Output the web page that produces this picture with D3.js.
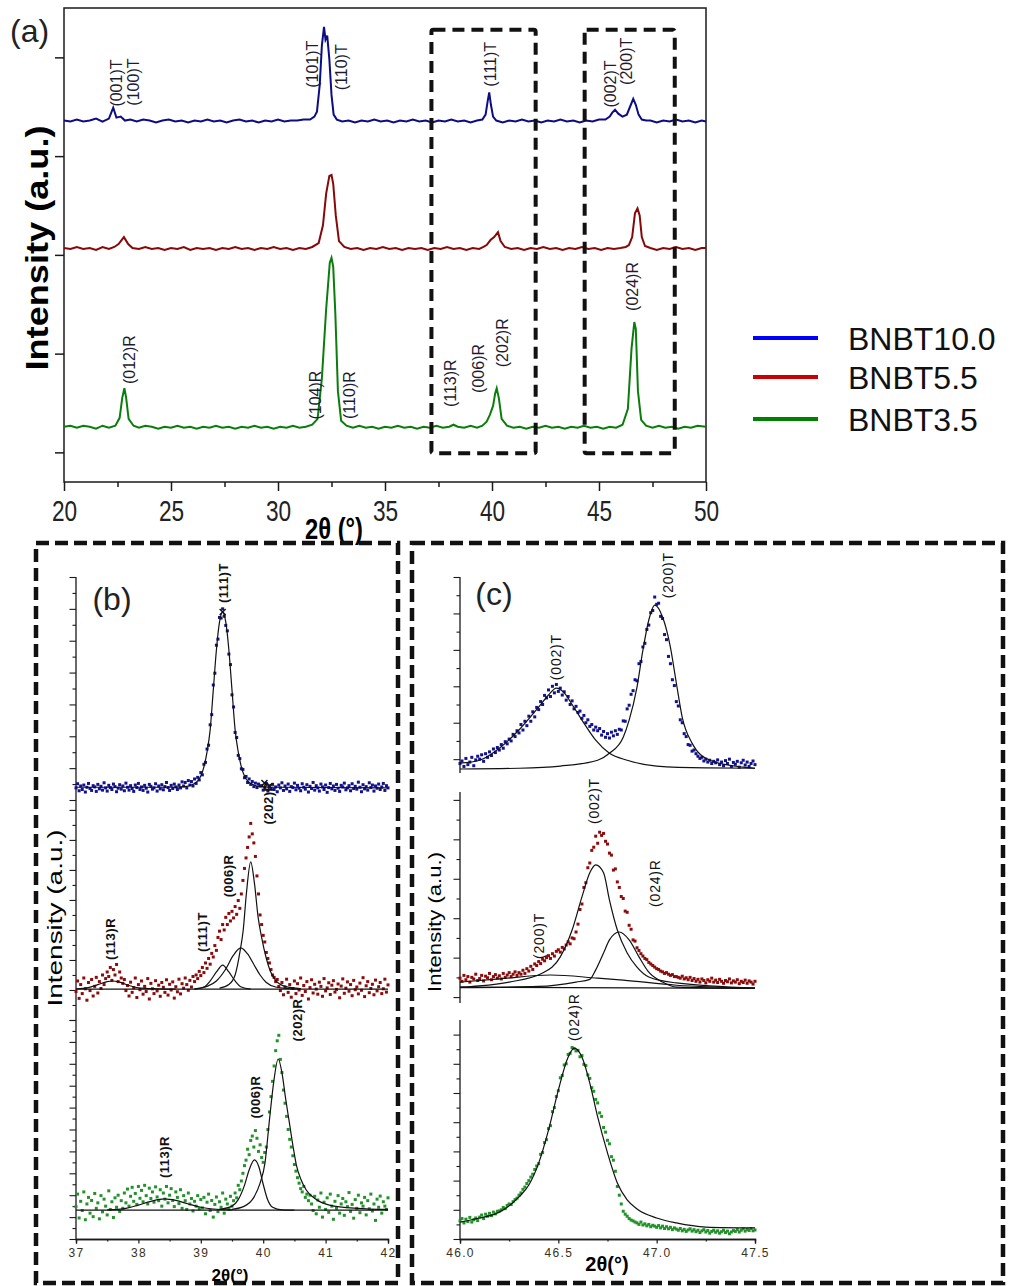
<!DOCTYPE html>
<html>
<head>
<meta charset="utf-8">
<script src="https://cdn.jsdelivr.net/npm/d3@7"></script>
<style>
  body { margin: 0; background: #fff; }
  text { font-family: Arial, "Liberation Sans", sans-serif; }
</style>
</head>
<body>
<script>
// ---------------- data ----------------
// (a) full patterns, 2theta (deg) vs stacked intensity (a.u.)
const sampleNames = ["BNBT10.0", "BNBT5.5", "BNBT3.5"];
const xTicksA = [20, 25, 30, 35, 40, 45, 50];
const patternBNBT100 = [[20,3.36],[20.3,3.35],[20.6,3.37],[20.9,3.35],[21.2,3.36],[21.5,3.38],[21.8,3.35],[22.1,3.38],[22.3,3.49],[22.45,3.39],[22.65,3.40],[22.85,3.36],[23.1,3.37],[23.4,3.35],[23.7,3.37],[24.0,3.36],[24.3,3.34],[24.6,3.36],[24.9,3.37],[25.2,3.35],[25.5,3.36],[25.8,3.34],[26.1,3.36],[26.4,3.35],[26.7,3.37],[27.0,3.35],[27.3,3.36],[27.6,3.34],[27.9,3.36],[28.2,3.37],[28.5,3.35],[28.8,3.36],[29.1,3.34],[29.4,3.36],[29.7,3.35],[30.0,3.37],[30.3,3.35],[30.6,3.36],[30.9,3.36],[31.2,3.37],[31.5,3.37],[31.7,3.40],[31.82,3.45],[31.95,3.72],[32.05,4.12],[32.15,4.31],[32.22,4.18],[32.3,4.22],[32.4,3.98],[32.5,3.62],[32.6,3.42],[32.75,3.37],[33.0,3.35],[33.3,3.36],[33.6,3.34],[33.9,3.36],[34.2,3.35],[34.5,3.37],[34.8,3.35],[35.1,3.36],[35.4,3.34],[35.7,3.36],[36.0,3.35],[36.3,3.37],[36.6,3.35],[36.9,3.36],[37.2,3.34],[37.5,3.36],[37.8,3.35],[38.1,3.37],[38.4,3.35],[38.7,3.36],[39.0,3.34],[39.3,3.36],[39.55,3.37],[39.7,3.42],[39.8,3.56],[39.87,3.645],[39.95,3.52],[40.05,3.40],[40.2,3.36],[40.5,3.34],[40.8,3.36],[41.1,3.35],[41.4,3.37],[41.7,3.35],[42.0,3.36],[42.3,3.34],[42.6,3.36],[42.9,3.35],[43.2,3.37],[43.5,3.35],[43.8,3.36],[44.1,3.34],[44.4,3.36],[44.7,3.35],[45.0,3.37],[45.3,3.37],[45.5,3.40],[45.62,3.44],[45.75,3.47],[45.9,3.43],[46.1,3.40],[46.3,3.42],[46.45,3.50],[46.6,3.58],[46.72,3.52],[46.85,3.42],[47.0,3.37],[47.2,3.36],[47.4,3.36],[47.7,3.34],[48.0,3.36],[48.3,3.35],[48.6,3.37],[48.9,3.35],[49.2,3.36],[49.5,3.34],[49.8,3.36],[50,3.35]];
const patternBNBT55 = [[20,2.07],[20.3,2.06],[20.6,2.08],[20.9,2.06],[21.2,2.07],[21.5,2.05],[21.8,2.08],[22.1,2.06],[22.35,2.08],[22.55,2.11],[22.8,2.18],[23.0,2.11],[23.2,2.07],[23.5,2.06],[23.8,2.08],[24.1,2.06],[24.4,2.07],[24.7,2.05],[25.0,2.07],[25.3,2.06],[25.6,2.08],[25.9,2.05],[26.2,2.07],[26.5,2.06],[26.8,2.07],[27.1,2.05],[27.4,2.07],[27.7,2.06],[28.0,2.08],[28.3,2.06],[28.6,2.07],[28.9,2.05],[29.2,2.07],[29.5,2.06],[29.8,2.08],[30.1,2.06],[30.4,2.07],[30.7,2.05],[31.0,2.07],[31.3,2.06],[31.6,2.08],[31.9,2.12],[32.1,2.30],[32.25,2.62],[32.4,2.80],[32.5,2.81],[32.58,2.72],[32.7,2.40],[32.85,2.14],[33.1,2.08],[33.4,2.06],[33.7,2.07],[34.0,2.05],[34.3,2.07],[34.6,2.06],[34.9,2.08],[35.2,2.06],[35.5,2.07],[35.8,2.05],[36.1,2.07],[36.4,2.06],[36.7,2.07],[37.0,2.05],[37.3,2.07],[37.6,2.06],[37.9,2.08],[38.2,2.06],[38.5,2.07],[38.8,2.05],[39.1,2.07],[39.4,2.06],[39.6,2.08],[39.75,2.10],[39.93,2.15],[40.1,2.18],[40.28,2.23],[40.4,2.14],[40.6,2.08],[40.9,2.06],[41.2,2.07],[41.5,2.05],[41.8,2.07],[42.1,2.06],[42.4,2.08],[42.7,2.06],[43.0,2.07],[43.3,2.05],[43.6,2.07],[43.9,2.06],[44.2,2.08],[44.5,2.06],[44.8,2.07],[45.1,2.05],[45.4,2.07],[45.7,2.06],[46.0,2.07],[46.25,2.08],[46.4,2.10],[46.55,2.18],[46.68,2.42],[46.8,2.47],[46.9,2.40],[47.0,2.18],[47.15,2.09],[47.4,2.07],[47.7,2.05],[48.0,2.07],[48.3,2.06],[48.6,2.08],[48.9,2.06],[49.2,2.07],[49.5,2.05],[49.8,2.07],[50.0,2.07]];
const patternBNBT35 = [[20,0.26],[20.3,0.27],[20.6,0.25],[20.9,0.27],[21.2,0.26],[21.5,0.24],[21.8,0.27],[22.1,0.25],[22.4,0.27],[22.6,0.35],[22.72,0.55],[22.82,0.65],[22.9,0.56],[23.02,0.34],[23.25,0.27],[23.5,0.25],[23.8,0.27],[24.1,0.26],[24.4,0.24],[24.7,0.26],[25.0,0.25],[25.3,0.27],[25.6,0.25],[25.9,0.26],[26.2,0.24],[26.5,0.26],[26.8,0.25],[27.1,0.27],[27.4,0.25],[27.7,0.26],[28.0,0.24],[28.3,0.26],[28.6,0.25],[28.9,0.27],[29.2,0.25],[29.5,0.26],[29.8,0.24],[30.1,0.26],[30.4,0.25],[30.7,0.27],[31.0,0.25],[31.3,0.26],[31.6,0.28],[31.85,0.34],[32.05,0.75],[32.25,1.45],[32.42,1.92],[32.5,1.97],[32.58,1.88],[32.68,1.40],[32.8,0.62],[32.95,0.32],[33.2,0.27],[33.5,0.25],[33.8,0.27],[34.1,0.25],[34.4,0.26],[34.7,0.24],[35.0,0.26],[35.3,0.25],[35.6,0.27],[35.9,0.25],[36.2,0.26],[36.5,0.24],[36.8,0.26],[37.1,0.25],[37.4,0.27],[37.7,0.25],[38.0,0.26],[38.2,0.28],[38.4,0.26],[38.7,0.25],[39.0,0.27],[39.3,0.25],[39.55,0.27],[39.75,0.31],[39.9,0.38],[40.05,0.47],[40.15,0.60],[40.22,0.65],[40.32,0.55],[40.45,0.34],[40.7,0.27],[41.0,0.25],[41.3,0.26],[41.6,0.24],[41.9,0.26],[42.2,0.25],[42.5,0.27],[42.8,0.25],[43.1,0.26],[43.4,0.24],[43.7,0.26],[44.0,0.25],[44.3,0.27],[44.6,0.25],[44.9,0.26],[45.2,0.24],[45.5,0.26],[45.8,0.25],[46.1,0.28],[46.35,0.44],[46.52,1.05],[46.65,1.32],[46.72,1.25],[46.82,0.62],[46.97,0.33],[47.2,0.27],[47.5,0.25],[47.8,0.27],[48.1,0.25],[48.4,0.26],[48.7,0.24],[49.0,0.26],[49.3,0.25],[49.6,0.27],[50,0.26]];
const peakLabelsA = [["(001)T",22.43,3.74],["(100)T",23.23,3.75],["(101)T",31.6,3.93],["(110)T",32.96,3.9],["(111)T",39.93,3.93],["(002)T",45.55,3.73],["(200)T",46.3,3.96],["(012)R",23.04,0.94],["(104)R",31.75,0.58],["(110)R",33.34,0.58],["(113)R",38.06,0.7],["(006)R",39.37,0.85],["(202)R",40.5,1.11],["(024)R",46.58,1.68]];
const zoomBoxesA = [[37.17, 42.04, -0.01, 4.28], [44.33, 48.54, -0.01, 4.28]];

// (b) 37-42 deg, readings every 0.025 deg (counts)
const bBlue = [38,51,29,44,33,47,25,40,52,36,30,45,41,27,49,35,43,31,54,38,28,46,39,33,50,42,26,37,48,34,44,29,53,40,31,45,36,27,47,39,52,33,41,30,46,37,25,49,43,34,38,51,28,44,35,48,32,42,55,39,30,46,36,50,41,33,47,38,57,44,
  55,38,61,47,58,44,66,52,71,63,86,79,112,118,160,172,236,268,361,398,486,505,573,571,600,577,548,531,458,425,330,292,212,196,140,130,98,96,70,74,55,66,49,58,42,53,39,50,44,
  45,31,40,52,28,43,36,49,33,41,26,47,38,54,30,44,35,50,27,42,39,53,32,46,37,29,51,40,34,48,25,43,36,55,31,45,38,28,50,41,33,47,24,39,52,35,44,30,49,37,27,46,41,53,32,38,45,29,51,36,43,34,56,40,26,48,35,42,31,54,39,47,28,44,37,50,33,41,52,30,45,38];
const bRed = [95,130,72,118,88,140,104,66,125,98,135,80,112,142,90,128,105,150,118,138,160,
  145,175,132,168,150,185,128,160,140,122,
  135,98,115,80,126,92,108,140,75,118,101,130,86,112,95,138,70,122,104,88,131,97,116,79,125,109,92,134,83,119,100,127,73,111,94,136,87,121,106,140,118,99,132,110,145,128,150,138,
  162,148,175,158,190,172,205,186,222,210,248,232,275,296,268,318,300,342,318,355,330,362,340,378,352,398,372,420,465,505,540,575,610,655,620,590,545,480,420,350,318,282,260,225,205,190,168,150,142,128,135,112,
  98,125,84,110,136,92,118,76,105,130,88,121,100,140,82,115,95,128,70,108,134,90,119,103,86,126,112,79,138,97,107,124,85,116,131,93,102,120,74,113,137,89,106,127,96,118,81,132,101,110,87,123,99,141,78,114,128,91,105,119,84,133,97,111,125,88,104,136,93,117];
const bGreen = [148,205,96,172,130,215,88,160,190,118,176,102,208,140,165,92,198,124,182,150,110,220,135,170,98,188,145,200,126,
  175,140,210,165,228,150,195,236,172,208,158,240,186,222,170,245,198,160,232,185,215,168,238,192,175,225,150,210,182,240,165,200,230,176,148,215,190,162,225,140,198,175,135,210,160,185,128,172,150,198,138,180,
  142,190,115,168,205,130,176,100,158,192,125,170,145,210,118,182,160,136,195,150,
  175,210,188,245,225,265,300,335,360,410,385,450,470,420,495,460,400,430,372,350,395,420,
  500,580,650,720,790,860,905,930,820,760,680,620,560,500,455,420,380,340,310,280,255,230,215,240,190,205,175,200,
  160,130,195,115,178,145,210,100,168,135,188,122,205,150,90,172,140,198,118,160,185,108,170,148,212,126,158,95,180,140,200,120,165,150,190,110,175,138,205,128,160,85,182,145,196,118,170,150,135,188];
const bBlueFit = [[37,40],[38.5,40],[38.75,42],[38.85,47],[38.95,60],[39.0,75],[39.05,104],[39.1,151],[39.15,220],[39.2,345],[39.25,471],[39.3,559],[39.35,590],[39.4,559],[39.45,471],[39.5,345],[39.55,220],[39.6,151],[39.65,104],[39.7,75],[39.75,60],[39.85,47],[39.95,42],[40.2,40],[42,38]];
const bRedBase = [[37,103],[42,103]];
const bRed113 = [[37.0,104],[37.2,108],[37.35,118],[37.5,128],[37.58,130],[37.7,126],[37.85,115],[38.0,107],[38.3,104],[38.6,103]];
const bRed111 = [[38.9,103],[39.05,110],[39.15,130],[39.25,160],[39.35,183],[39.45,160],[39.55,130],[39.65,110],[39.8,103]];
const bRed006 = [[38.9,104],[39.1,112],[39.25,130],[39.4,170],[39.52,215],[39.64,240],[39.75,220],[39.85,185],[39.95,150],[40.05,125],[40.2,110],[40.4,105],[40.6,103]];
const bRed202 = [[39.3,106],[39.45,118],[39.55,150],[39.63,230],[39.68,300],[39.73,420],[39.8,527],[39.86,455],[39.92,340],[39.97,280],[40.05,205],[40.12,160],[40.2,132],[40.35,112],[40.6,105]];
const bGreenBase = [[37,132],[42,132]];
const bGreen113 = [[37.5,133],[37.8,140],[38.0,155],[38.2,172],[38.42,183],[38.6,176],[38.8,160],[39.0,145],[39.2,137],[39.5,133]];
const bGreen006 = [[39.3,135],[39.5,150],[39.6,180],[39.7,245],[39.78,320],[39.86,361],[39.93,330],[40.0,250],[40.07,180],[40.15,145],[40.3,133],[40.5,132]];
const bGreen202 = [[39.5,135],[39.7,150],[39.85,190],[39.95,255],[40.03,350],[40.1,543],[40.17,720],[40.24,822],[40.3,760],[40.36,640],[40.42,530],[40.48,420],[40.53,340],[40.6,275],[40.69,224],[40.85,180],[41.06,155],[41.5,140],[42,135]];
const bBlueLabels = [["(111)T",39.37,681]];
const bRedLabels = [["(202)R",40.08,723],["(113)R",37.55,270],["(111)T",39.03,293],["(006)R",39.45,480]];
const bGreenLabels = [["(113)R",38.42,374],["(006)R",39.87,648],["(202)R",40.55,1000]];
const bBlueMarks = [[39.35,590],[40.02,53]];

// (c) 46-47.5 deg, readings every 0.01 deg (counts)
const cBlue = [-12,-5,-20,2,-15,-8,5,-18,-2,8,0,12,-6,15,5,20,10,28,18,32,25,40,30,48,42,55,50,68,62,78,
  72,95,80,104,92,118,104,130,116,142,136,158,150,175,168,190,172,200,182,205,186,195,176,185,162,172,150,160,138,145,
  128,132,112,120,100,108,90,95,80,88,78,84,66,76,60,70,58,74,64,78,68,82,80,105,104,138,148,178,188,218,
  215,262,268,308,318,356,368,402,408,445,425,428,392,386,342,328,282,262,218,202,158,146,108,100,70,62,40,38,22,25,
  15,8,2,5,-5,0,-8,-3,-12,-6,-10,-2,-15,-8,-18,-4,-12,0,-20,-9,-14,-6,-22,-10,-3,-16,-8,-20,-12,-5,-15];
const cRed = [48,40,55,44,52,38,50,46,58,42,47,55,41,53,49,60,44,52,57,48,54,46,60,50,56,62,52,58,64,55,
  62,58,68,60,72,66,78,70,84,80,90,85,96,92,100,105,98,110,104,116,120,114,126,122,132,140,135,150,148,165,
  185,222,236,278,290,328,340,372,380,408,390,418,410,415,395,388,365,360,322,325,292,278,255,250,218,215,182,172,145,142,
  125,118,110,104,98,95,88,84,80,76,72,70,66,64,60,62,58,55,57,52,52,50,48,53,46,49,44,50,42,47,
  40,45,38,46,42,36,44,40,48,38,43,37,45,40,35,42,39,46,36,41,38,44,34,40,37,43,35,41,38,33,40];
const cGreen = [62,70,55,68,60,74,58,66,72,63,75,82,70,85,78,88,80,92,86,95,96,100,108,104,115,120,118,128,135,140,
  150,158,170,178,190,200,212,222,238,250,258,290,296,330,340,378,388,436,450,488,508,552,560,596,600,632,636,656,652,644,
  646,624,628,598,594,562,550,518,506,478,466,432,420,382,366,338,326,282,270,232,180,150,120,95,85,78,70,65,62,58,
  55,50,58,48,52,45,50,42,47,44,40,46,38,44,36,42,35,40,32,38,34,30,36,28,33,26,31,35,27,32,
  25,30,22,28,32,24,29,20,26,30,23,28,20,25,30,22,27,18,24,29,26,32,24,30,35,27,33,29,36,28,31];
const cBlue002 = [[46.0,-11],[46.1,-3],[46.2,30],[46.3,80],[46.4,143],[46.45,176],[46.49,195],[46.53,182],[46.57,150],[46.63,99],[46.69,52],[46.76,16],[46.85,-3],[47.0,-19],[47.25,-24],[47.5,-25]];
const cBlue200 = [[46.0,-27],[46.3,-25],[46.51,-19],[46.7,-3],[46.76,16],[46.83,60],[46.86,107],[46.9,198],[46.93,299],[46.96,382],[46.99,423],[47.03,390],[47.07,307],[47.1,209],[47.13,115],[47.18,44],[47.27,-3],[47.44,-22],[47.5,-25]];
const cRedBase = [[46.0,25],[47.5,22]];
const cRed200 = [[46.0,38],[46.2,46],[46.46,56],[46.7,48],[46.83,43],[47.1,30],[47.5,23]];
const cRed002 = [[46.0,25],[46.25,38],[46.42,61],[46.51,102],[46.57,170],[46.62,254],[46.66,315],[46.69,335],[46.73,315],[46.76,246],[46.8,170],[46.85,112],[46.9,76],[46.96,51],[47.1,36],[47.5,23]];
const cRed024 = [[46.0,24],[46.4,27],[46.59,38],[46.66,45],[46.69,69],[46.73,112],[46.76,145],[46.81,165],[46.86,145],[46.91,102],[46.96,63],[47.03,38],[47.1,25],[47.5,22]];
const cGreenFit = [[46.0,58],[46.1,72],[46.2,92],[46.3,144],[46.35,185],[46.4,260],[46.45,373],[46.5,510],[46.55,623],[46.58,654],[46.62,623],[46.66,534],[46.7,418],[46.75,295],[46.8,192],[46.85,134],[46.9,103],[47.0,72],[47.1,55],[47.25,41],[47.5,38]];
const cBlueLabels = [["(002)T",46.49,280],["(200)T",47.06,505]];
const cRedLabels = [["(002)T",46.68,497],["(024)R",46.99,289],["(200)T",46.40,155]];
const cGreenLabels = [["(024)R",46.58,760]];

// ---------------- drawing ----------------
const ink = "#1a1a1a";
const svg = d3.select("body").append("svg").attr("width", 1015).attr("height", 1286);

// ===== panel (a) =====
const xA = d3.scaleLinear().domain([20, 50]).range([64, 706]);
const yA = d3.scaleLinear().domain([-0.3, 4.5]).range([482, 8]);
const gA = svg.append("g");

gA.append("rect")
  .attr("x", xA(20)).attr("y", yA(4.5))
  .attr("width", xA(50) - xA(20)).attr("height", yA(-0.3) - yA(4.5))
  .attr("fill", "none").attr("stroke", ink).attr("stroke-width", 1.5);

let axMinor = gA.append("g").attr("transform", "translate(0," + yA(-0.3) + ")")
  .call(d3.axisBottom(xA).tickValues(d3.range(22.5, 50, 5)).tickSize(5).tickFormat(""));
let axMajor = gA.append("g").attr("transform", "translate(0," + yA(-0.3) + ")")
  .call(d3.axisBottom(xA).tickValues(xTicksA).tickSize(9).tickPadding(9).tickFormat(d3.format("d")));
let axLeft = gA.append("g").attr("transform", "translate(" + xA(20) + ",0)")
  .call(d3.axisLeft(yA).tickValues([0, 1, 2, 3, 4]).tickSize(9).tickFormat(""));
[axMinor, axMajor, axLeft].forEach(a => {
  a.select(".domain").remove();
  a.selectAll("line").attr("stroke", ink).attr("stroke-width", 1.5);
});
// condensed look of the original tick font
axMajor.selectAll("text").attr("font-size", 29).attr("fill", "#222").attr("transform", "scale(0.78,1)");

const lineA = d3.line().x(d => xA(d[0])).y(d => yA(d[1]));
const lineColorsA = ["#0c0c84", "#860808", "#0b7d0b"];
[patternBNBT100, patternBNBT55, patternBNBT35].forEach((p, i) => {
  gA.append("path").datum(p).attr("d", lineA)
    .attr("fill", "none").attr("stroke", lineColorsA[i]).attr("stroke-width", 2);
});

zoomBoxesA.forEach(b => {
  gA.append("rect")
    .attr("x", xA(b[0])).attr("y", yA(b[3]))
    .attr("width", xA(b[1]) - xA(b[0])).attr("height", yA(b[2]) - yA(b[3]))
    .attr("rx", 2).attr("fill", "none").attr("stroke", "#111")
    .attr("stroke-width", 4).attr("stroke-dasharray", "12,7");
});

peakLabelsA.forEach(([t, x, y]) => {
  gA.append("text")
    .attr("transform", "translate(" + xA(x) + "," + yA(y) + ") rotate(-90)")
    .attr("text-anchor", "middle").attr("dy", "0.35em")
    .attr("font-size", 16).attr("fill", "#1c1c30").text(t);
});

svg.append("text").attr("x", 10).attr("y", 42).attr("font-size", 32).attr("fill", "#222").text("(a)");
svg.append("text")
  .attr("transform", "translate(37,248) rotate(-90)")
  .attr("text-anchor", "middle").attr("dy", "0.35em")
  .attr("font-size", 31).attr("font-weight", "bold")
  .attr("textLength", 245).attr("lengthAdjust", "spacingAndGlyphs")
  .text("Intensity (a.u.)");
svg.append("text").attr("transform", "translate(334,539) scale(0.82,1)").attr("text-anchor", "middle")
  .attr("font-size", 29).attr("font-weight", "bold")
  .text("2θ (°)");

// legend
const legendColors = ["#0000ff", "#cc0000", "#008000"];
const legendY = [338, 377, 419];
sampleNames.forEach((n, i) => {
  svg.append("line").attr("x1", 753).attr("x2", 818).attr("y1", legendY[i]).attr("y2", legendY[i])
    .attr("stroke", legendColors[i]).attr("stroke-width", 4);
  svg.append("text").attr("x", 848).attr("y", legendY[i] + 12)
    .attr("font-family", "'Open Sans', Lato, sans-serif").attr("font-size", 32).attr("fill", "#111")
    .text(n);
});

// ===== panels (b), (c) =====
const dotColors = ["#12128e", "#8c0c0c", "#22922a"];

function drawStack(g, x, xMajor, xMinor, fmt, layers, labelFont) {
  const axisY = 1239;
  const x0 = x.range()[0];
  const ax1 = g.append("g").attr("transform", "translate(0," + axisY + ")")
    .call(d3.axisBottom(x).tickValues(xMinor).tickSize(2.5).tickFormat(""));
  const ax2 = g.append("g").attr("transform", "translate(0," + axisY + ")")
    .call(d3.axisBottom(x).tickValues(xMajor).tickSize(4.5).tickPadding(5).tickFormat(fmt));
  [ax1, ax2].forEach(a => {
    a.select(".domain").attr("stroke", ink).attr("stroke-width", 1.3);
    a.selectAll("line").attr("stroke", ink).attr("stroke-width", 1.2);
  });
  ax2.selectAll("text").attr("font-size", 12).attr("letter-spacing", "1.3px").attr("fill", "#3a3020");

  layers.forEach((L, li) => {
    const y = d3.scaleLinear().domain(L.domain).range(L.range);
    g.append("line").attr("x1", x0).attr("x2", x0).attr("y1", L.axis[0]).attr("y2", L.axis[1])
      .attr("stroke", ink).attr("stroke-width", 1.3);
    const major = d3.range(0, L.domain[1] + 1, 100);
    const minor = d3.range(50, L.domain[1], 100);
    [[minor, 3.5], [major, 6.5]].forEach(([tv, sz]) => {
      const a = g.append("g").attr("transform", "translate(" + x0 + ",0)")
        .call(d3.axisLeft(y).tickValues(tv).tickSize(sz).tickFormat(""));
      a.select(".domain").remove();
      a.selectAll("line").attr("stroke", ink).attr("stroke-width", 1.1);
    });

    const xmax = x.domain()[1] + 1e-6;
    const pts = L.values.map((v, i) => [L.start + i * L.step, v]).filter(d => d[0] <= xmax);
    g.append("g").selectAll("rect").data(pts).join("rect")
      .attr("x", d => x(d[0]) - 1.5).attr("y", d => y(d[1]) - 1.5)
      .attr("width", 3).attr("height", 3).attr("fill", dotColors[li]);

    const fitLine = d3.line().curve(d3.curveMonotoneX).x(d => x(d[0])).y(d => y(d[1]));
    L.fits.forEach(f => {
      g.append("path").datum(f).attr("d", fitLine)
        .attr("fill", "none").attr("stroke", "#111").attr("stroke-width", 1.2);
    });

    (L.marks || []).forEach(m => {
      const px = x(m[0]), py = y(m[1]);
      g.append("path").attr("d", "M" + (px - 3) + "," + (py - 3) + "L" + (px + 3) + "," + (py + 3) +
        "M" + (px - 3) + "," + (py + 3) + "L" + (px + 3) + "," + (py - 3))
        .attr("stroke", "#111").attr("stroke-width", 1.4);
    });

    L.labels.forEach(([t, lx, ly]) => {
      g.append("text")
        .attr("transform", "translate(" + x(lx) + "," + y(ly) + ") rotate(-90)")
        .attr("text-anchor", "middle").attr("dy", "0.35em")
        .attr("font-size", labelFont.size).attr("font-weight", labelFont.weight)
        .attr("letter-spacing", labelFont.spacing).attr("fill", "#111").text(t);
    });
  });
}

// (b)
const gB = svg.append("g");
gB.append("rect").attr("x", 36).attr("y", 543).attr("width", 362).attr("height", 740)
  .attr("fill", "none").attr("stroke", "#111").attr("stroke-width", 4.5).attr("stroke-dasharray", "13,6");
const xB = d3.scaleLinear().domain([37, 42]).range([76, 388]);
drawStack(gB, xB, d3.range(37, 42.01, 1), d3.range(37.5, 42, 1), d3.format("d"), [
  { domain: [0, 700], range: [800, 577], axis: [577, 800], start: 37, step: 0.025, values: bBlue,
    fits: [bBlueFit], labels: bBlueLabels, marks: bBlueMarks },
  { domain: [0, 733], range: [1020, 800], axis: [800, 1020], start: 37, step: 0.025, values: bRed,
    fits: [bRedBase, bRed113, bRed111, bRed006, bRed202], labels: bRedLabels },
  { domain: [0, 1000], range: [1239, 1020], axis: [1020, 1239], start: 37, step: 0.025, values: bGreen,
    fits: [bGreenBase, bGreen113, bGreen006, bGreen202], labels: bGreenLabels }
], { size: 13, weight: "bold", spacing: "0.5px" });
svg.append("text").attr("x", 112).attr("y", 610).attr("text-anchor", "middle").attr("font-size", 32).attr("fill", "#222").text("(b)");
svg.append("text")
  .attr("transform", "translate(55,918) rotate(-90)")
  .attr("text-anchor", "middle").attr("dy", "0.35em")
  .attr("font-size", 21).attr("textLength", 177).attr("lengthAdjust", "spacingAndGlyphs")
  .text("Intensity (a.u.)");
svg.append("text").attr("x", 230).attr("y", 1281).attr("text-anchor", "middle")
  .attr("font-size", 17).attr("font-weight", "bold").text("2θ(°)");

// (c)
const gC = svg.append("g");
gC.append("rect").attr("x", 412).attr("y", 543).attr("width", 591).attr("height", 740)
  .attr("fill", "none").attr("stroke", "#111").attr("stroke-width", 4.5).attr("stroke-dasharray", "13,6");
const xC = d3.scaleLinear().domain([46, 47.5]).range([460, 755]);
drawStack(gC, xC, d3.range(46, 47.51, 0.5), [46.25, 46.75, 47.25], d3.format(".1f"), [
  { domain: [-38, 500], range: [773, 577], axis: [577, 773], start: 46, step: 0.01, values: cBlue,
    fits: [cBlue002, cBlue200], labels: cBlueLabels },
  { domain: [-15, 520], range: [1003, 792], axis: [792, 1003], start: 46, step: 0.01, values: cRed,
    fits: [cRedBase, cRed200, cRed002, cRed024], labels: cRedLabels },
  { domain: [0, 750], range: [1239, 1020], axis: [1020, 1239], start: 46, step: 0.01, values: cGreen,
    fits: [cGreenFit], labels: cGreenLabels }
], { size: 14, weight: "normal", spacing: "0.8px" });
svg.append("text").attr("x", 494).attr("y", 605).attr("text-anchor", "middle").attr("font-size", 32).attr("fill", "#222").text("(c)");
svg.append("text")
  .attr("transform", "translate(435,922) rotate(-90)")
  .attr("text-anchor", "middle").attr("dy", "0.35em")
  .attr("font-size", 18).attr("textLength", 140).attr("lengthAdjust", "spacingAndGlyphs")
  .text("Intensity (a.u.)");
svg.append("text").attr("x", 607).attr("y", 1271).attr("text-anchor", "middle")
  .attr("font-size", 20).attr("font-weight", "bold").text("2θ(°)");
</script>
</body>
</html>
